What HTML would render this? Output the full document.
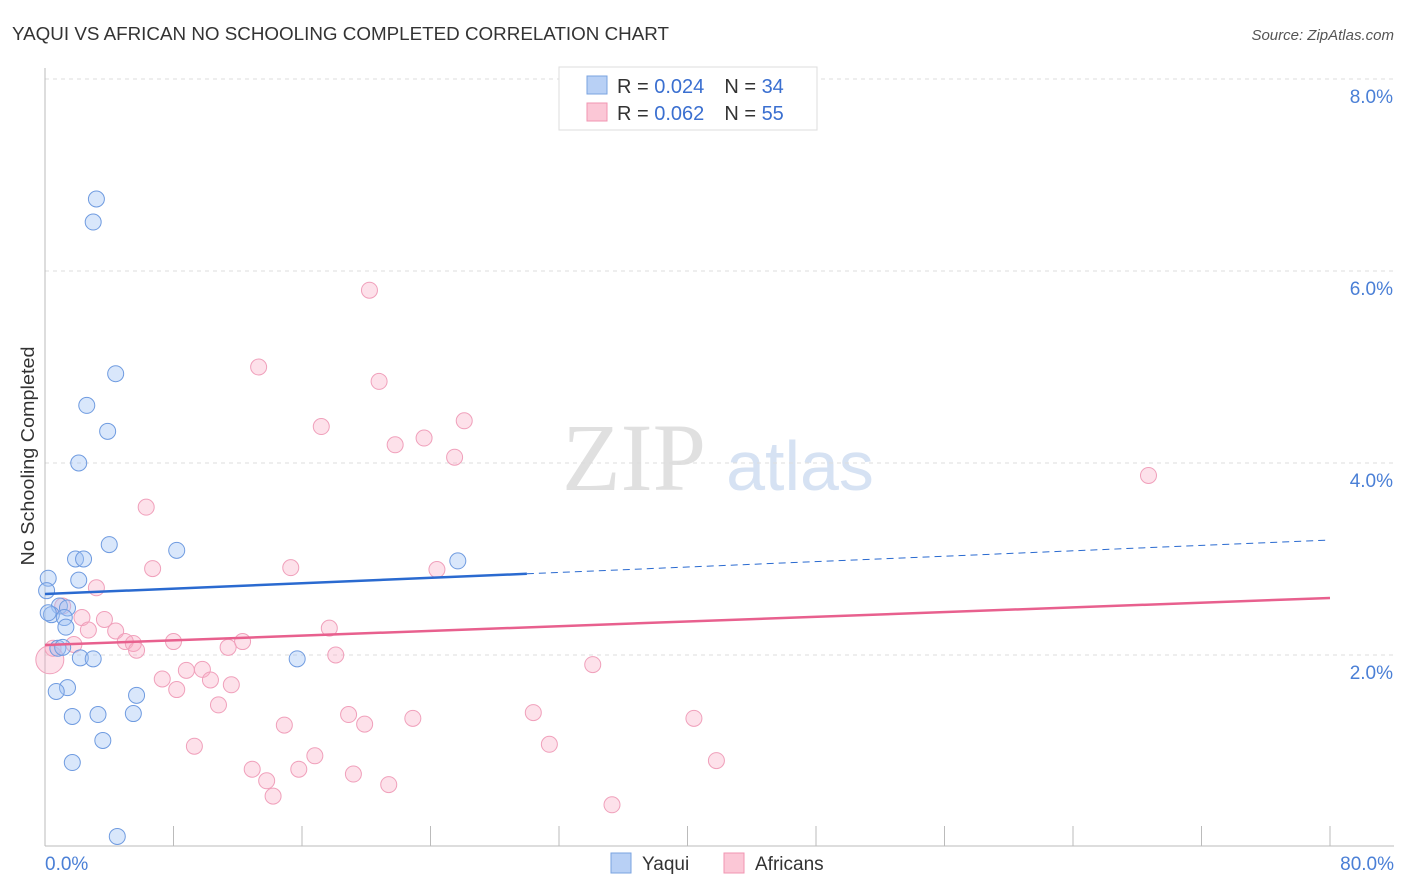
<!DOCTYPE html>
<html><head><meta charset="utf-8"><style>
body{margin:0;background:#fff;font-family:"Liberation Sans",sans-serif}
</style></head><body>
<svg width="1406" height="892" style="display:block">
<text x="12" y="40" font-size="18" fill="#333" textLength="657" lengthAdjust="spacingAndGlyphs">YAQUI VS AFRICAN NO SCHOOLING COMPLETED CORRELATION CHART</text>
<text x="1394" y="40" font-size="15" fill="#555" text-anchor="end" font-style="italic">Source: ZipAtlas.com</text>
<text x="634" y="490" font-size="96" fill="#e0e0e0" font-family="Liberation Serif" text-anchor="middle">ZIP</text>
<text x="800" y="490" font-size="70" fill="#d6e2f3" text-anchor="middle">atlas</text>
<g id="grid"></g>
<g id="axes"></g>
<g id="marks"></g>
<text transform="translate(34,456) rotate(-90)" font-size="18" fill="#333" text-anchor="middle" textLength="219" lengthAdjust="spacingAndGlyphs">No Schooling Completed</text>
<g>
<rect x="559" y="67" width="258" height="63" fill="#fff" stroke="#ddd"/>
<rect x="587" y="76" width="20" height="18" fill="#b8d0f5" stroke="#7aa3e0"/>
<rect x="587" y="103" width="20" height="18" fill="#fbc7d6" stroke="#f095b2"/>
<text x="617" y="93" font-size="20" fill="#333">R = <tspan fill="#3a6fd0">0.024</tspan><tspan dx="20">N = </tspan><tspan fill="#3a6fd0">34</tspan></text>
<text x="617" y="120" font-size="20" fill="#333">R = <tspan fill="#3a6fd0">0.062</tspan><tspan dx="20">N = </tspan><tspan fill="#3a6fd0">55</tspan></text>
</g>
<g>
<rect x="611" y="853" width="20" height="20" fill="#b8d0f5" stroke="#7aa3e0"/>
<text x="642" y="870" font-size="19" fill="#333">Yaqui</text>
<rect x="724" y="853" width="20" height="20" fill="#fbc7d6" stroke="#f095b2"/>
<text x="755" y="870" font-size="19" fill="#333">Africans</text>
</g>
</svg>
<script>
const yTicks=[2,4,6,8];
const yTickLabels=["2.0%","4.0%","6.0%","8.0%"];
const xTicks=[0,8,16,24,32,40,48,56,64,72,80];
const yaquiX=[3.2,3.0,4.4,2.6,3.9,2.1,4.0,8.2,1.9,2.4,0.2,2.1,0.1,0.9,1.4,0.4,1.2,1.3,0.8,2.2,3.0,15.7,1.4,0.7,5.7,1.7,3.3,5.5,3.6,1.7,4.5,25.7,0.2,1.1];
const yaquiY=[6.75,6.51,4.93,4.6,4.33,4.0,3.15,3.09,3.0,3.0,2.8,2.78,2.67,2.51,2.49,2.42,2.39,2.29,2.07,1.97,1.96,1.96,1.66,1.62,1.58,1.36,1.38,1.39,1.11,0.88,0.11,2.98,2.44,2.08];
const afrX=[20.2,13.3,20.8,26.1,17.2,23.6,21.8,25.5,68.7,6.3,6.7,15.3,24.4,3.2,1.1,2.3,3.7,2.7,4.4,17.7,5.0,8.0,12.3,5.5,11.4,5.7,18.1,1.8,0.3,34.1,8.8,9.8,7.3,10.3,8.2,11.6,10.8,18.9,30.4,22.9,40.4,19.9,14.9,31.4,9.3,16.8,41.8,12.9,15.8,19.2,13.8,21.4,14.2,35.3,0.5];
const afrY=[5.8,5.0,4.85,4.44,4.38,4.26,4.19,4.06,3.87,3.54,2.9,2.91,2.89,2.7,2.51,2.39,2.37,2.26,2.25,2.28,2.14,2.14,2.14,2.12,2.08,2.05,2.0,2.11,1.95,1.9,1.84,1.85,1.75,1.74,1.64,1.69,1.48,1.38,1.40,1.34,1.34,1.28,1.27,1.07,1.05,0.95,0.9,0.81,0.81,0.76,0.69,0.65,0.53,0.44,2.07];
const afrR=[];afrR[28]=14;
const yaquiTrend=[2.635,3.198], afrTrend=[2.104,2.594];
const NS="http://www.w3.org/2000/svg";
const X=v=>45+v*(1285/80), Y=v=>847-v*96;
function mk(t,a,p){const e=document.createElementNS(NS,t);for(const k in a)e.setAttribute(k,a[k]);p.appendChild(e);return e;}
const grid=document.getElementById('grid'),axes=document.getElementById('axes'),marks=document.getElementById('marks');
yTicks.forEach((v,i)=>{
 const l=mk('line',{x1:45,x2:1394,y1:Y(v),y2:Y(v),stroke:'#ddd','stroke-dasharray':'4,4'},grid);
 
 
 const t=mk('text',{x:1393,y:Y(v)+24,'font-size':19,fill:'#4a7fd6','text-anchor':'end'},axes);
 t.textContent=yTickLabels[i];
 
 
});
const tg=mk('line',{x1:45,x2:1394,y1:79,y2:79,stroke:'#ddd','stroke-dasharray':'4,4'},grid);


const ya=mk('line',{x1:45,x2:45,y1:68,y2:846,stroke:'#bbb'},axes);


const xa=mk('line',{x1:45,x2:1394,y1:846,y2:846,stroke:'#bbb'},axes);


xTicks.forEach(v=>{const l=mk('line',{x1:X(v),x2:X(v),y1:826,y2:846,stroke:'#bbb'},axes);
 
 });
const t0=mk('text',{x:45,y:870,'font-size':19,fill:'#4a7fd6'},axes);t0.textContent='0.0%';


const t1=mk('text',{x:1394,y:870,'font-size':19,fill:'#4a7fd6','text-anchor':'end'},axes);t1.textContent='80.0%';


afrX.forEach((x,i)=>{const c=mk('circle',{cx:X(x),cy:Y(afrY[i]),r:afrR[i]||8,fill:'rgba(248,170,195,0.35)',stroke:'#f0a0bb','stroke-width':1},marks);
 
 });
yaquiX.forEach((x,i)=>{const c=mk('circle',{cx:X(x),cy:Y(yaquiY[i]),r:8,fill:'rgba(160,195,245,0.4)',stroke:'#6f9be0','stroke-width':1},marks);
 
 });
const yt=v=>yaquiTrend[0]+(yaquiTrend[1]-yaquiTrend[0])*v/80;
const l1=mk('line',{x1:X(0),y1:Y(yt(0)),x2:X(30),y2:Y(yt(30)),stroke:'#2a6ad0','stroke-width':2.5},marks);


const l2=mk('line',{x1:X(30),y1:Y(yt(30)),x2:X(80),y2:Y(yt(80)),stroke:'#2a6ad0','stroke-width':1,'stroke-dasharray':'7,5'},marks);


const l3=mk('line',{x1:X(0),y1:Y(afrTrend[0]),x2:X(80),y2:Y(afrTrend[1]),stroke:'#e8608e','stroke-width':2.5},marks);


</script>
</body></html>
